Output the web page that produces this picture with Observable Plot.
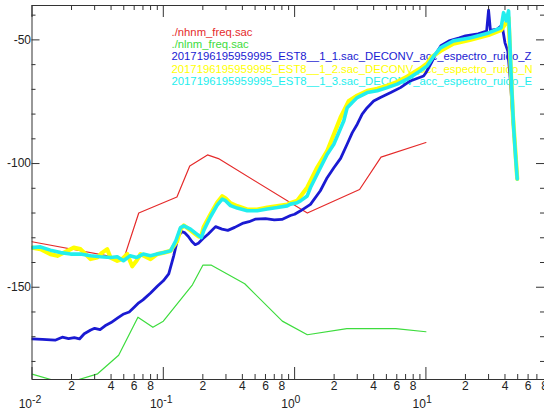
<!DOCTYPE html>
<html><head><meta charset="utf-8">
<script src="https://cdn.jsdelivr.net/npm/d3@7"></script>
<script src="https://cdn.jsdelivr.net/npm/@observablehq/plot@0.6"></script>
<style>
body{margin:0;background:#fff;}
#wrap{position:relative;width:544px;height:419px;font-family:"Liberation Sans",Arial,Helvetica,sans-serif;}
#legend{position:absolute;left:171.5px;top:26.3px;font-size:11.3px;line-height:12.1px;white-space:nowrap;z-index:0;}
#chart{position:absolute;left:0;top:0;z-index:1;}
</style></head><body>
<div id="wrap"><div id="legend"></div><div id="chart"></div></div>
<script>
// ---- data ----
const seriesNames = ["./nhnm_freq.sac","./nlnm_freq.sac",
  "2017196195959995_EST8__1_1.sac_DECONV_acc_espectro_ruido_Z",
  "2017196195959995_EST8__1_2.sac_DECONV_acc_espectro_ruido_N",
  "2017196195959995_EST8__1_3.sac_DECONV_acc_espectro_ruido_E"];
const seriesColors = ["#e52b2b","#3ddc3d","#1a1ad2","#ffff00","#22eeee"];

const freqNHNM = [0.01, 0.05, 0.065, 0.127, 0.159, 0.217, 0.263, 1.25, 3.125, 4.55, 10];
const dbNHNM   = [-131.6, -138.5, -120.0, -113.5, -101.0, -96.5, -98.0, -120.0, -110.5, -97.4, -91.5];

const freqNLNM = [0.01, 0.01429, 0.0222, 0.0316, 0.0457, 0.0641, 0.0833, 0.1, 0.1667, 0.2, 0.2326, 0.417, 0.806, 1.25, 2.5, 5.88, 10];
const dbNLNM   = [-185.1, -187.5, -187.5, -185.0, -177.5, -162.1, -166.2, -163.75, -149.0, -141.1, -141.1, -148.6, -163.7, -169.2, -166.7, -166.7, -168.0];

const freqZ = [0.01,0.012,0.015,0.017,0.019,0.021,0.023,0.025,0.028,0.03,0.033,0.036,0.04,0.045,0.05,0.055,0.06,0.065,0.07,0.08,0.09,0.1,0.11,0.12,0.125,0.13,0.138,0.145,0.155,0.165,0.175,0.185,0.2,0.22,0.25,0.28,0.31,0.35,0.4,0.45,0.5,0.6,0.7,0.8,0.93,1.0,1.11,1.32,1.57,1.77,1.99,2.24,2.51,2.75,3.0,3.27,3.57,4.0,4.5,5.4,6.4,7.6,9.6,10,11,12,13,15,18,20,25,29,30,31,35,38,40,42,44,46,48,49.6];
const dbZ   = [-170.9,-171.1,-171.4,-170.2,-170.8,-170.4,-170.9,-168.8,-167.3,-166.6,-167.1,-165.6,-164.3,-162.4,-160.8,-160.0,-158.1,-156.3,-155.1,-152.3,-149.6,-147.4,-144.6,-137.3,-133.3,-129.5,-127.5,-127.9,-129.5,-131.5,-132.8,-132.2,-130.4,-128.5,-125.5,-126.5,-127.0,-125.8,-124.2,-123.5,-122.5,-122.3,-122.8,-122.6,-121.0,-120.5,-119.1,-116.5,-111.0,-105.7,-101.7,-97.9,-92.2,-87.5,-84.1,-80.0,-77.4,-74.7,-73.3,-71.3,-69.3,-66.6,-64.6,-63.3,-59.3,-55.3,-52.4,-50.4,-49.2,-48.4,-47.6,-46.4,-38.0,-46.2,-45.6,-44.0,-51.2,-54.4,-66.6,-82.7,-94.9,-106.2];

const freqN = [0.01,0.0116,0.0138,0.0156,0.0175,0.0208,0.0234,0.0255,0.0279,0.0314,0.0343,0.0374,0.0396,0.0446,0.0487,0.0531,0.058,0.0625,0.067,0.0799,0.0899,0.101,0.1135,0.1277,0.1352,0.1433,0.1563,0.1706,0.186,0.195,0.2034,0.2288,0.2573,0.2809,0.2977,0.325,0.3654,0.4355,0.519,0.6186,0.7372,0.8782,0.9307,1.047,1.247,1.486,1.772,2.237,2.587,3.0,3.573,4.257,5.074,6.045,7.203,9.097,10.23,11,12.9,16.2,21.6,30,37.4,40.9,42.6,44.1,45.9,48,49.6];
const dbN   = [-134.0,-134.6,-136.6,-137.3,-136.0,-134.0,-134.6,-136.6,-138.6,-138.0,-136.0,-134.6,-138.0,-139.3,-138.6,-136.6,-141.5,-139.3,-136.6,-138.6,-136.6,-136.0,-135.3,-131.2,-126.5,-125.0,-126.5,-128.0,-129.5,-129.0,-125.5,-120.5,-115.8,-113.2,-114.0,-116.0,-117.2,-118.6,-118.6,-117.8,-117.2,-116.6,-115.9,-115.0,-109.7,-101.6,-94.9,-81.4,-74.7,-72.5,-70.6,-69.8,-68.5,-67.0,-64.8,-61.5,-59.5,-57.0,-54.5,-51.5,-50.0,-48.0,-46.0,-43.0,-41.0,-60.0,-80.0,-95.0,-106.2];

const freqE = [0.01,0.0116,0.0138,0.0165,0.0197,0.0234,0.0279,0.0333,0.0396,0.0446,0.0497,0.0557,0.0625,0.0703,0.0799,0.0899,0.101,0.1135,0.1245,0.1352,0.1433,0.161,0.18,0.195,0.2034,0.2288,0.2573,0.2809,0.2977,0.325,0.3654,0.4355,0.519,0.6186,0.7372,0.8782,0.9307,1.047,1.109,1.247,1.321,1.575,1.772,1.989,2.37,2.515,2.746,2.998,3.573,4.257,5.074,6.045,7.203,9.097,10.23,11.5,12.9,16.2,21.6,30,37.4,39,40.9,42.6,43.5,44.6,46.5,48.3,49.6];
const dbE   = [-134.0,-133.7,-135.0,-136.0,-136.6,-136.6,-137.3,-137.7,-138.0,-137.7,-139.3,-137.3,-138.0,-136.6,-137.3,-136.6,-136.0,-135.3,-131.2,-125.9,-125.2,-126.5,-128.5,-129.9,-127.0,-121.5,-116.8,-114.4,-115.0,-117.0,-118.0,-119.1,-119.1,-118.4,-117.8,-117.1,-116.4,-115.8,-115.1,-113.1,-109.7,-101.6,-96.2,-92.2,-82.7,-77.4,-75.3,-73.3,-71.3,-70.6,-69.3,-67.9,-65.9,-62.5,-60.5,-56.5,-53.2,-50.4,-49.2,-47.2,-45.1,-39.0,-42.3,-38.3,-50.0,-65.0,-85.0,-98.0,-106.2];

// ---- axis ticks / labels ----
const xMajorTicks = [0.01, 0.1, 1, 10];
const xMajorExp = ["-2", "-1", "0", "1"];
const xMinorTicks = [0.02,0.03,0.04,0.05,0.06,0.07,0.08,0.09,
  0.2,0.3,0.4,0.5,0.6,0.7,0.8,0.9, 2,3,4,5,6,7,8,9, 20,30,40,50,60,70,80];
const xMinorLabelVals = [0.02,0.04,0.06,0.08,0.2,0.4,0.6,0.8,2,4,6,8,20,40,60,80];
const xMinorLabels = ["2","4","6","8","2","4","6","8","2","4","6","8","2","4","6","8"];
const yMajorTicks = [-50, -100, -150];
const yMinorTicks = [-40,-60,-70,-80,-90,-110,-120,-130,-140,-160,-170,-180];

// ---- layout ----
const W = 544, H = 419, mL = 31.5, mR = 0, mT = 5, mB = 40;
const fH = H - mT - mB, fW = W - mL - mR;
const axisColor = "#333";
const rows = (fs, ds) => fs.map((f, i) => ({f, db: ds[i]}));

const legend = document.getElementById("legend");
seriesNames.forEach((n, i) => {
  const d = document.createElement("div");
  d.textContent = n; d.style.color = seriesColors[i];
  legend.appendChild(d);
});

const chart = Plot.plot({
  width: W, height: H,
  marginLeft: mL, marginRight: mR, marginTop: mT, marginBottom: mB,
  style: {background: "transparent", fontFamily: "'Liberation Sans', Arial, Helvetica, sans-serif", color: "#222"},
  x: {type: "log", domain: [0.01, 80], axis: null},
  y: {domain: [-187.3, -36.1], axis: null},
  marks: [
    Plot.line(rows(freqNHNM, dbNHNM), {x: "f", y: "db", stroke: seriesColors[0], strokeWidth: 1.2, clip: true}),
    Plot.line(rows(freqNLNM, dbNLNM), {x: "f", y: "db", stroke: seriesColors[1], strokeWidth: 1.2, clip: true}),
    Plot.line(rows(freqZ, dbZ), {x: "f", y: "db", stroke: seriesColors[2], strokeWidth: 2.8, clip: true}),
    Plot.line(rows(freqN, dbN), {x: "f", y: "db", stroke: seriesColors[3], strokeWidth: 4.2, clip: true}),
    Plot.line(rows(freqE, dbE), {x: "f", y: "db", stroke: seriesColors[4], strokeWidth: 3.6, clip: true}),
    Plot.frame({stroke: axisColor}),
    Plot.tickX(xMajorTicks, {stroke: axisColor, insetTop: fH - 12}),
    Plot.tickX(xMinorTicks, {stroke: axisColor, insetTop: fH - 5}),
    Plot.tickX(xMajorTicks, {stroke: axisColor, insetBottom: fH - 12}),
    Plot.tickX(xMinorTicks, {stroke: axisColor, insetBottom: fH - 5}),
    Plot.tickY(yMajorTicks, {stroke: axisColor, insetRight: fW - 8}),
    Plot.tickY(yMinorTicks, {stroke: axisColor, insetRight: fW - 4}),
    Plot.tickY(yMajorTicks, {stroke: axisColor, insetLeft: fW - 8}),
    Plot.tickY(yMinorTicks, {stroke: axisColor, insetLeft: fW - 4}),
    Plot.text(yMajorTicks, {y: d => d, frameAnchor: "left", textAnchor: "end", dx: -1, text: d => String(d), fontSize: 12, fill: "#222"}),
    Plot.text(xMinorLabelVals, {x: d => d, frameAnchor: "bottom", dy: 10, text: (d, i) => xMinorLabels[i], fontSize: 12, fill: "#222"}),
    Plot.text(xMajorTicks, {x: d => d, frameAnchor: "bottom", dy: 28, textAnchor: "end", text: () => "10", fontSize: 12, fill: "#222"}),
    Plot.text(xMajorTicks, {x: d => d, frameAnchor: "bottom", dy: 23, textAnchor: "start", text: (d, i) => xMajorExp[i], fontSize: 10.5, fill: "#222"})
  ]
});
document.getElementById("chart").appendChild(chart);
</script>
</body></html>
